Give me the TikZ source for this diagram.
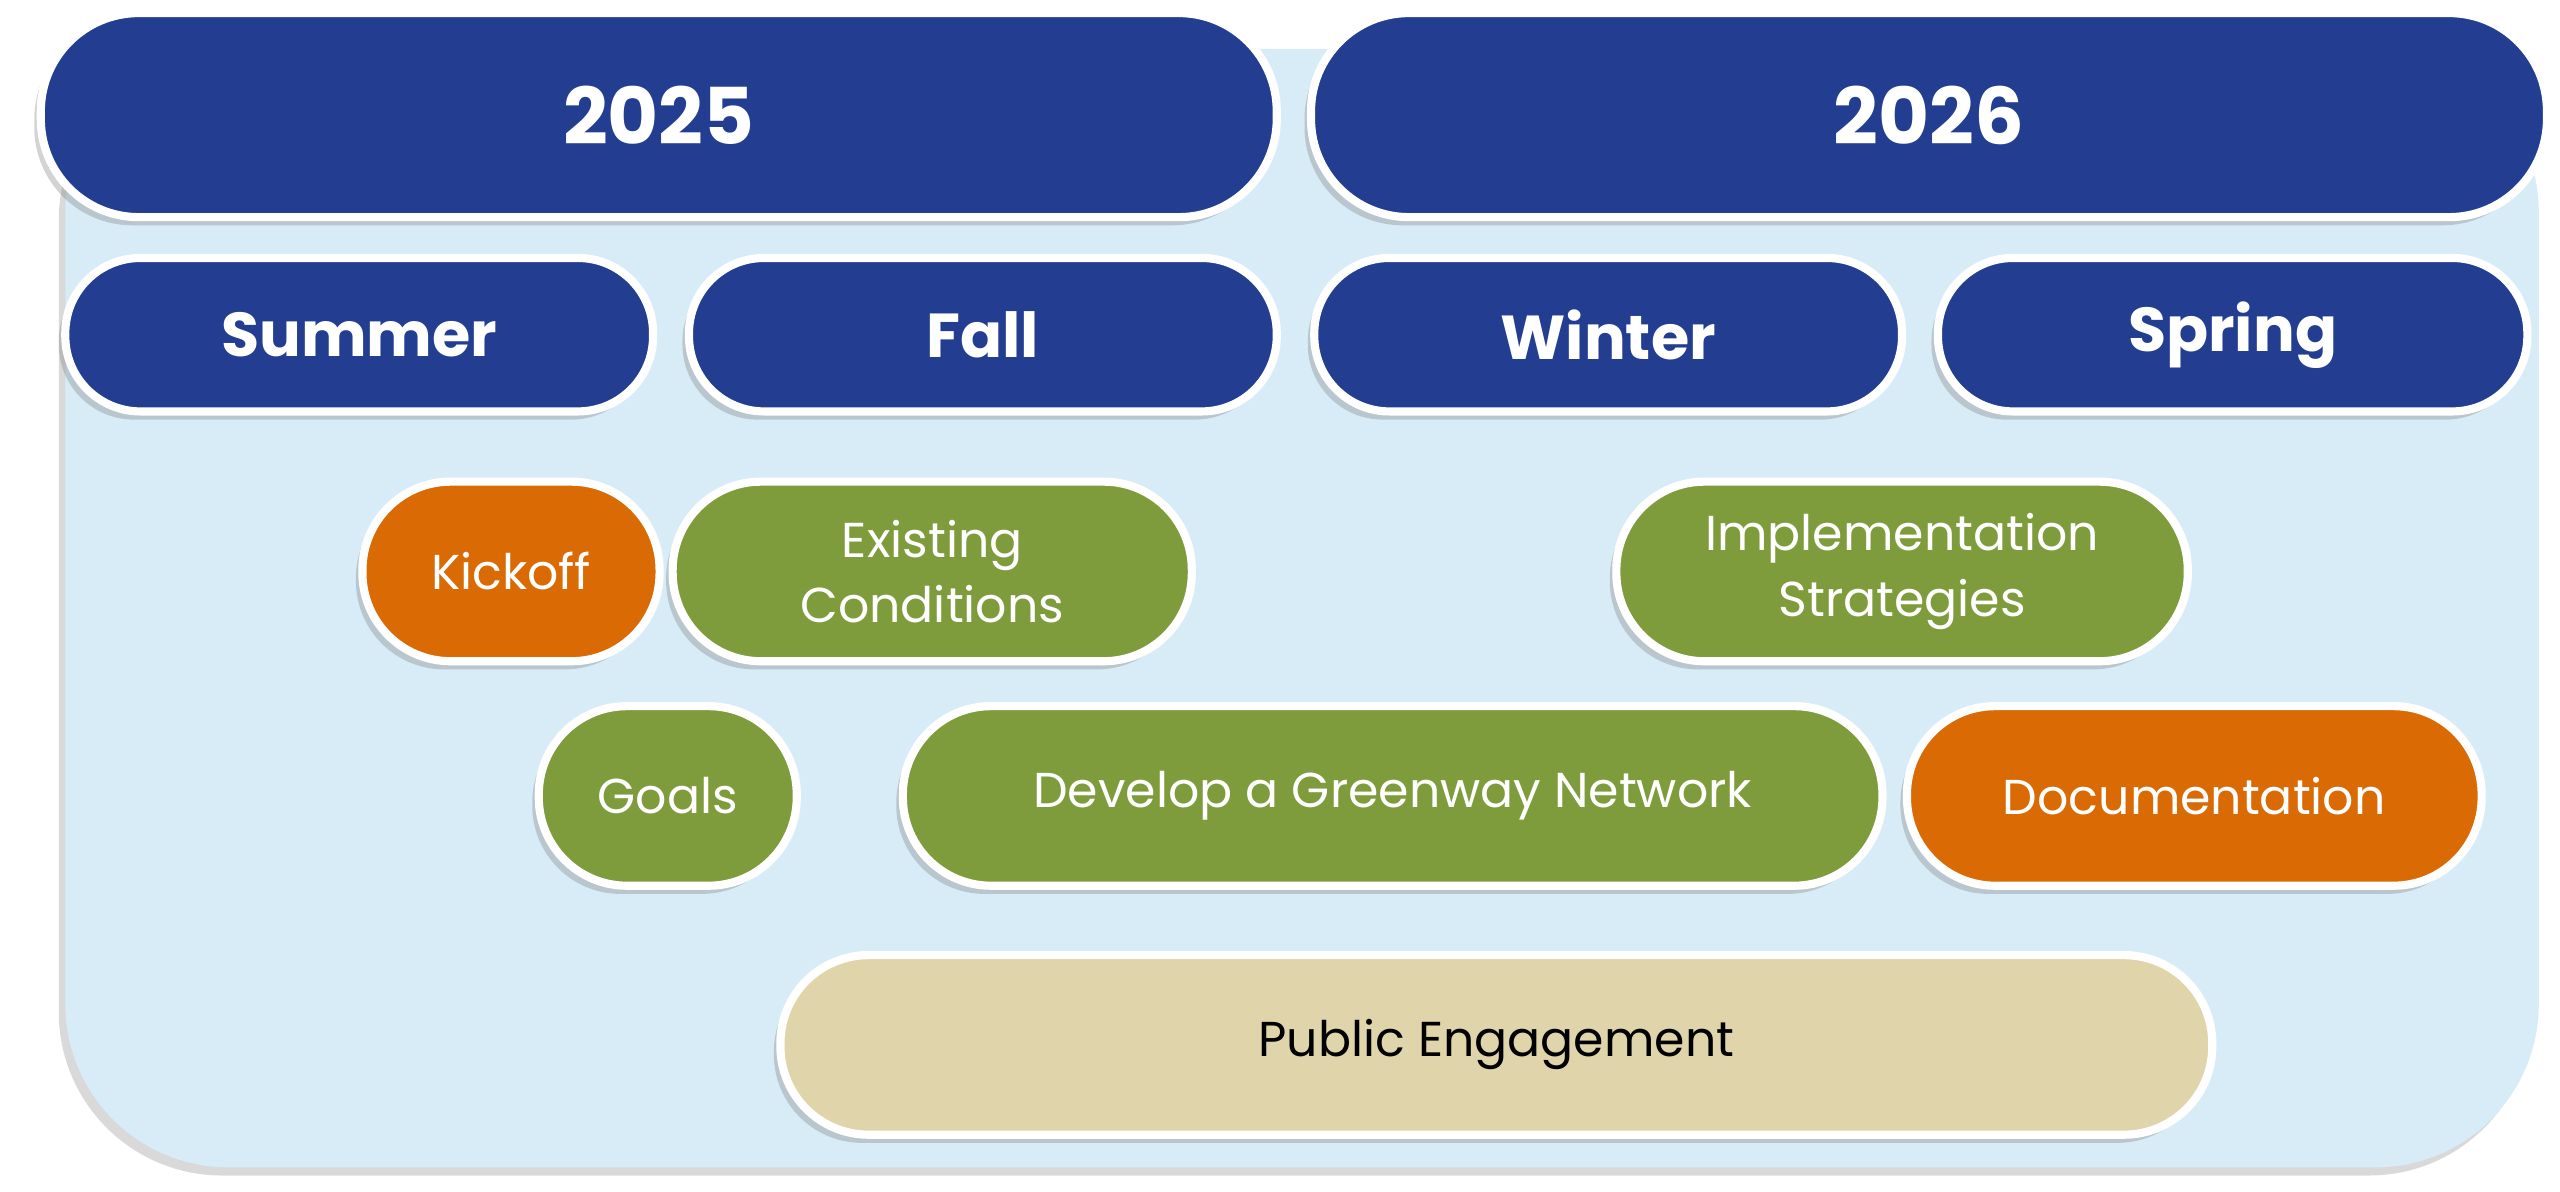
\documentclass[tikz,border=0pt]{standalone}
\usepackage{fontspec}
\setmainfont{Poppins}
\usetikzlibrary{shadows}
\definecolor{navy}{HTML}{233D91}
\definecolor{bgblue}{HTML}{D8ECF7}
\definecolor{grn}{HTML}{7F9C3D}
\definecolor{org}{HTML}{D96A04}
\definecolor{tan}{HTML}{E0D5AA}
\tikzset{
  pill/.style={draw=white,line width=5pt,text=white,align=center,
    drop shadow={shadow xshift=-4pt,shadow yshift=-5pt,opacity=0.35,fill=gray},
    inner sep=0pt},
  year/.style={pill,fill=navy,font=\fontsize{48}{52}\selectfont\bfseries,rounded corners=60pt,minimum height=125pt},
  season/.style={pill,fill=navy,font=\fontsize{38}{42}\selectfont\bfseries,rounded corners=46pt,minimum height=94pt},
  task/.style={pill,font=\fontsize{30}{40}\selectfont,rounded corners=54pt,minimum height=110pt},
}
\begin{document}
\begin{tikzpicture}[x=1pt,y=-1pt]
\useasboundingbox (0,0) rectangle (1568,730);
\fill[bgblue,rounded corners=100pt,drop shadow={shadow xshift=-4pt,shadow yshift=-5pt,opacity=0.3,fill=gray}] (40,30) rectangle (1555,715);
\node[year,minimum width=757pt] (y25) at (403.5,70.5) {2025};
\node[year,minimum width=757pt] (y26) at (1181.5,70.5) {2026};
\node[season,minimum width=360pt] (su) at (220,205) {Summer};
\node[season,minimum width=360pt] (fa) at (602,205) {Fall};
\node[season,minimum width=360pt] (wi) at (985,205) {Winter};
\node[season,minimum width=361pt] (sp) at (1367.5,205) {Spring};
\node[task,fill=org,minimum width=182pt] (ki) at (313,350) {Kickoff};
\node[task,fill=grn,minimum width=318pt] (ec) at (571,350) {Existing\\Conditions};
\node[task,fill=grn,minimum width=350pt] (is) at (1165,350) {Implementation\\Strategies};
\node[task,fill=grn,minimum width=158pt] (go) at (409,487.5) {Goals};
\node[task,fill=grn,minimum width=600pt] (dg) at (853,487.5) {Develop a Greenway Network};
\node[task,fill=org,minimum width=352pt] (do) at (1344,487.5) {Documentation};
\node[task,fill=tan,text=black,minimum width=877pt] (pe) at (916.5,640) {Public Engagement};
\end{tikzpicture}
\end{document}
